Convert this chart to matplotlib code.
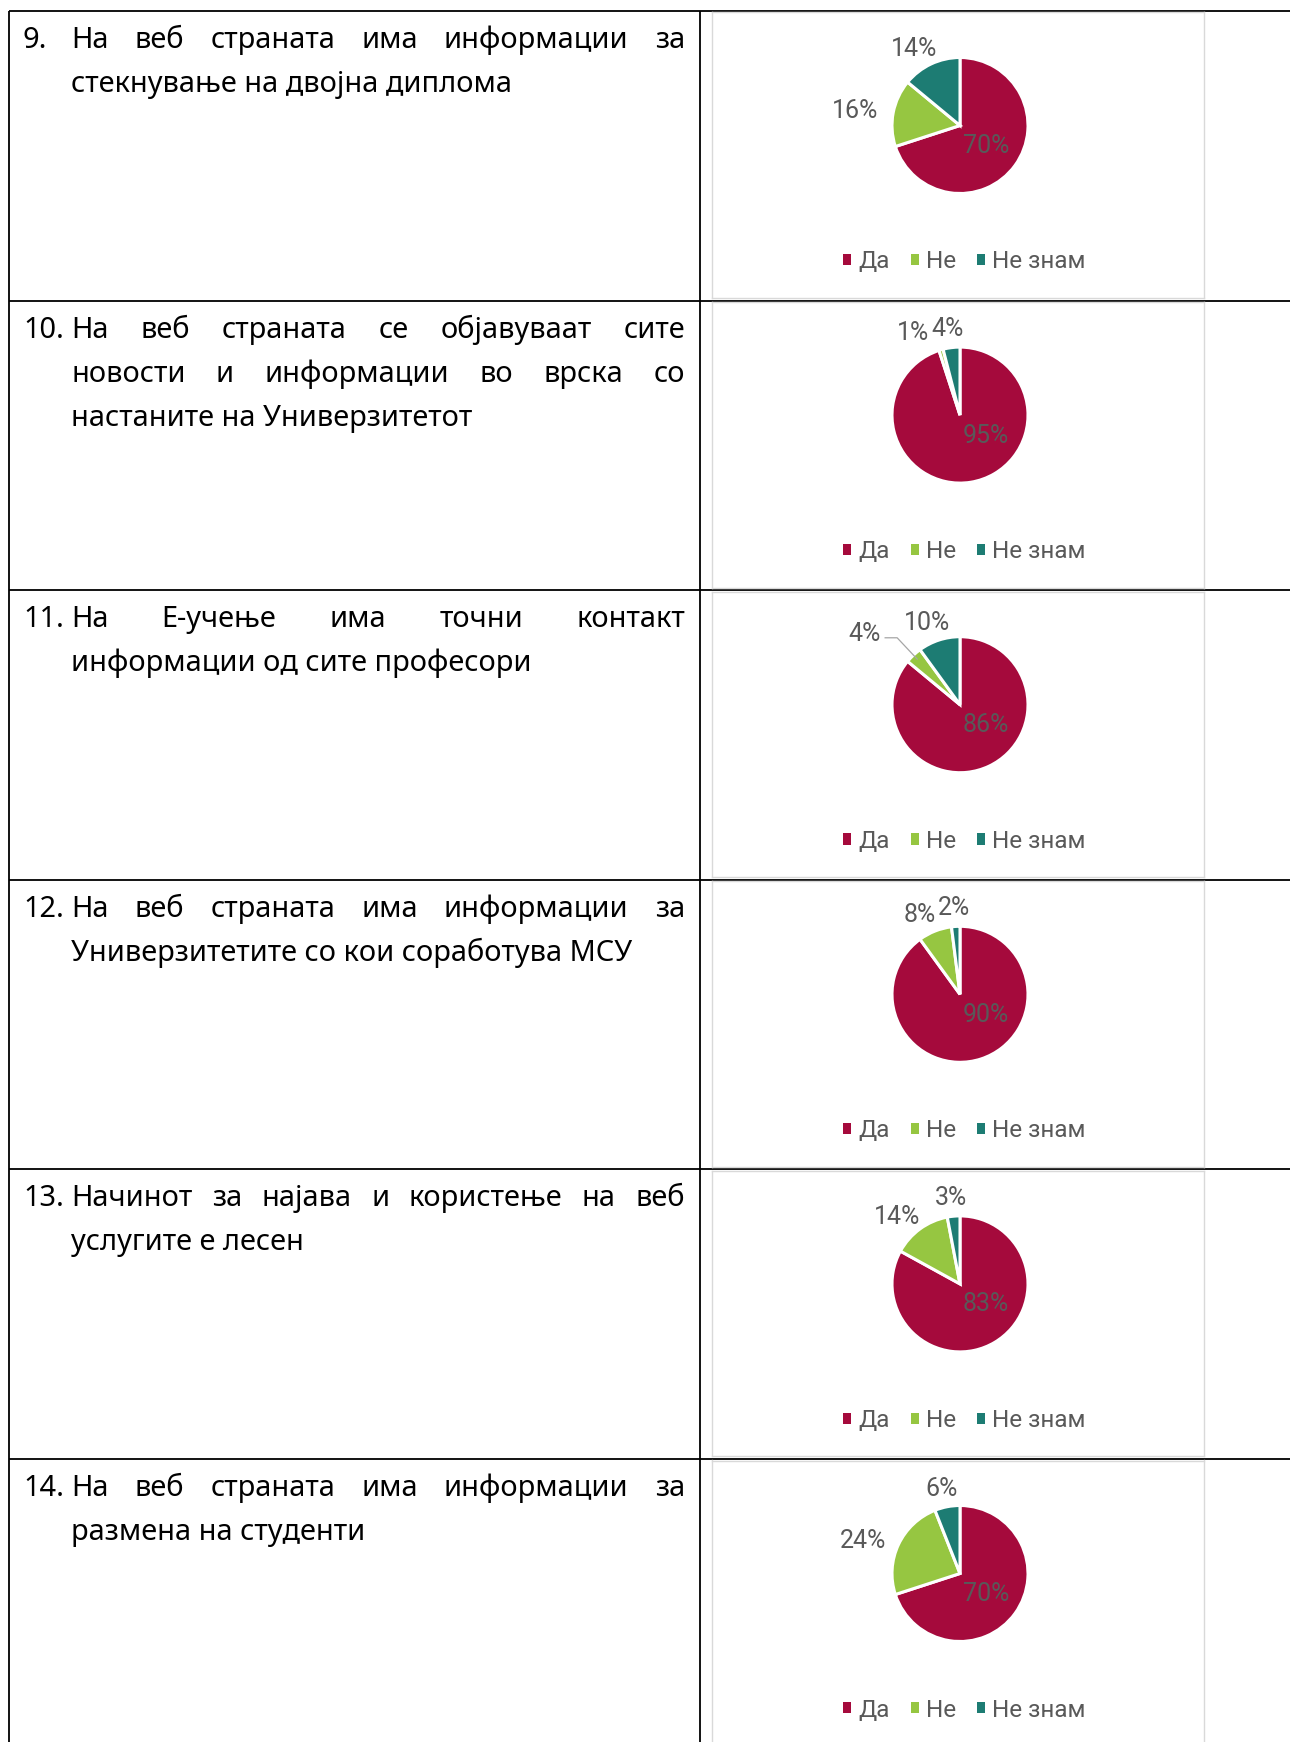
import numpy as np
import matplotlib
matplotlib.use("Agg")
import matplotlib.pyplot as plt
from matplotlib.patches import Patch

W, H = 1290, 1742

# ---- data ----
numbers = ["9.", "10.", "11.", "12.", "13.", "14."]
question_lines = [
    ["На веб страната има информации за", "стекнување на двојна диплома"],
    ["На веб страната се објавуваат сите", "новости и информации во врска со", "настаните на Универзитетот"],
    ["На Е-учење има точни контакт", "информации од сите професори"],
    ["На веб страната има информации за", "Универзитетите со кои соработува МСУ"],
    ["Начинот за најава и користење на веб", "услугите е лесен"],
    ["На веб страната има информации за", "размена на студенти"],
]
categories = ["Да", "Не", "Не знам"]
yes_pct = [70, 95, 86, 90, 83, 70]
no_pct = [16, 1, 4, 8, 14, 24]
dont_know_pct = [14, 4, 10, 2, 3, 6]
colors = ["#A50A3C", "#96C641", "#1D7C73"]

#----------------------------------------------------------------------------------------------------------------------------------------
# layout (pixels)
ROW_TOP0 = 11
ROW_H = 289.6
LEFT_X = 9
DIV_X = 700
NUM_X = 23
TEXT_X = 71
TEXT_RIGHT = 685
LINE_GAP = 44
FIRST_BASELINE = 37
CHART_L, CHART_R = 712, 1204
PIE_CX = 960
PIE_DY = 114.5
PIE_R = 68
LABEL_GRAY = "#595959"
Q_FONT = ["Noto Sans", "DejaVu Sans"]
L_FONT = ["Roboto", "DejaVu Sans"]
L_SIZE = 18
LEG_SIZE = 17.5

fig = plt.figure(figsize=(W / 100, H / 100), dpi=100)
renderer = fig.canvas.get_renderer()

bg = fig.add_axes([0, 0, 1, 1])
bg.set_xlim(0, W)
bg.set_ylim(H, 0)
bg.axis("off")

# fit question font size so a natural line matches the reference width
probe = bg.text(0, 0, question_lines[0][1], fontsize=20, family=Q_FONT, fontweight="medium")
q_size = 20 * 441 / probe.get_window_extent(renderer).width
probe.remove()

row_tops = [ROW_TOP0 + i * ROW_H for i in range(len(numbers))]

# table grid
for y in row_tops:
    bg.plot([LEFT_X, W], [y, y], color="black", lw=1.3, solid_capstyle="butt")
for x in (LEFT_X, DIV_X):
    bg.plot([x, x], [ROW_TOP0, H], color="black", lw=1.3, solid_capstyle="butt")


def qtext(x, y, s):
    return bg.text(x, y, s, fontsize=q_size, family=Q_FONT, fontweight="medium",
                   va="baseline", ha="left")


def draw_line(line, y, justify):
    if not justify:
        qtext(TEXT_X, y, line)
        return
    words = line.split()
    texts = [qtext(0, y, w) for w in words]
    widths = [t.get_window_extent(renderer).width for t in texts]
    gap = (TEXT_RIGHT - TEXT_X - sum(widths)) / (len(words) - 1)
    x = TEXT_X
    for t, w in zip(texts, widths):
        t.set_x(x)
        x += w + gap


for i, top in enumerate(row_tops):
    base = top + FIRST_BASELINE
    qtext(NUM_X, base, numbers[i])
    lines = question_lines[i]
    for j, line in enumerate(lines):
        draw_line(line, base + j * LINE_GAP, j < len(lines) - 1)


def text_size(t):
    bb = t.get_window_extent(renderer)
    return bb.width, bb.height


for i, top in enumerate(row_tops):
    vals = [yes_pct[i], no_pct[i], dont_know_pct[i]]
    cy = top + PIE_DY
    ax = fig.add_axes([CHART_L / W, 1 - (top + 287) / H, (CHART_R - CHART_L) / W, 285.5 / H])
    wedges, _ = ax.pie(vals, radius=PIE_R, startangle=90, counterclock=False, colors=colors,
                       wedgeprops=dict(edgecolor="white", linewidth=2.2), frame=True)
    ax.set_xlim(CHART_L - PIE_CX, CHART_R - PIE_CX)
    ax.set_ylim(-(top + 287 - cy), cy - (top + 1.5))
    ax.set_aspect("auto")
    ax.set_xticks([])
    ax.set_yticks([])
    for sp in ax.spines.values():
        sp.set_color("#D9D9D9")
        sp.set_linewidth(1.0)

    # inside label for the big slice
    ax.text(0.38 * PIE_R, -0.30 * PIE_R, f"{vals[0]}%", fontsize=L_SIZE, family=L_FONT,
            color=LABEL_GRAY, ha="center", va="center")

    # outside labels for the two small slices
    boxes = []
    for k in (1, 2):
        w = wedges[k]
        mid_deg = ((w.theta1 + w.theta2) / 2) % 360
        mid = np.radians(mid_deg)
        c, s = np.cos(mid), np.sin(mid)
        t = ax.text(0, 0, f"{vals[k]}%", fontsize=L_SIZE, family=L_FONT, color=LABEL_GRAY,
                    ha="center", va="center")
        tw, th = text_size(t)
        frac = vals[k] / sum(vals)
        if frac < 0.05 and abs(mid_deg - 90) > 30:
            ax_, ay_ = c * 1.35 * PIE_R, s * 1.35 * PIE_R
            px, py = ax_ - 16 - tw / 2, ay_ + 4
            ax.plot([c * 0.92 * PIE_R, ax_, ax_ - 12], [s * 0.92 * PIE_R, ay_, ay_],
                    color="#A6A6A6", lw=0.9)
        else:
            D = 1.1 * PIE_R
            px = c * D + c * tw / 2 * 1.4
            py = s * D + s ** 3 * th / 2
        boxes.append([t, px, py, tw, th])

    g, tq = boxes
    if abs(g[2] - tq[2]) < (g[4] + tq[4]) / 2 - 4 and abs(g[1] - tq[1]) < (g[3] + tq[3]) / 2:
        g[1] = min(g[1], tq[1] - tq[3] / 2 - 2 - g[3] / 2)
    for t, px, py, tw, th in boxes:
        t.set_position((px, py))

    handles = [Patch(facecolor=col, edgecolor="none") for col in colors]
    ax.legend(handles, categories, loc="center", ncol=3, frameon=False,
              bbox_to_anchor=((964.5 - CHART_L) / (CHART_R - CHART_L), 36 / 285.5),
              prop={"family": L_FONT, "size": LEG_SIZE}, labelcolor=LABEL_GRAY,
              handlelength=0.34, handleheight=0.34, handletextpad=0.3, columnspacing=0.85,
              borderpad=0)

fig.savefig("out.png", dpi=100)
